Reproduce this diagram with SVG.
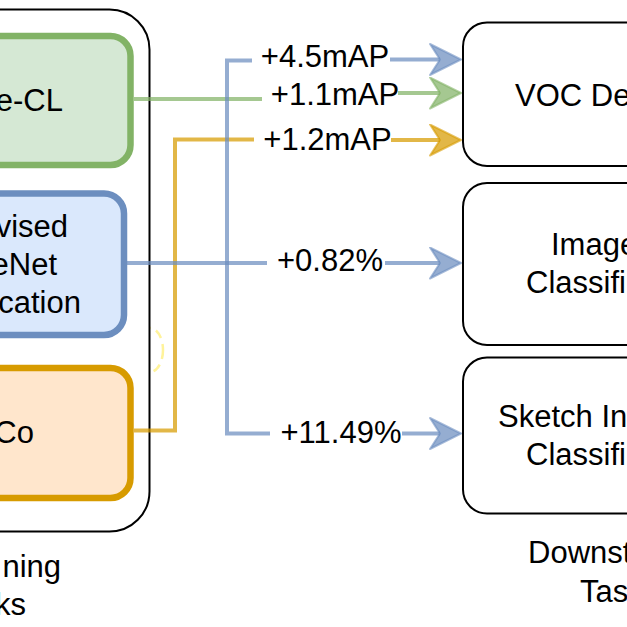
<svg xmlns="http://www.w3.org/2000/svg" width="627" height="627" viewBox="0 0 627 627">
<style>
text{font-family:"Liberation Sans",Arial,Helvetica,sans-serif;font-size:31px;fill:#000}
.node{stroke-width:6.5}
.task{fill:#fff;stroke:#000;stroke-width:2}
.edge{fill:none;stroke-width:4;stroke-opacity:0.72}
.b{stroke:#6c8ebf}
.g{stroke:#82b366}
.o{stroke:#d79b00}
</style>
<defs>
<marker id="ab" markerUnits="userSpaceOnUse" viewBox="-1 -1 33 33" refX="10" refY="15.5" markerWidth="33" markerHeight="33" orient="auto">
<path d="M0,0 L31,15.5 L0,31 L10,15.5 Z" fill="#6c8ebf" fill-opacity="0.72" stroke="#6c8ebf" stroke-opacity="0.6" stroke-width="2" stroke-linejoin="round"/>
</marker>
<marker id="ag" markerUnits="userSpaceOnUse" viewBox="-1 -1 33 33" refX="10" refY="15.5" markerWidth="33" markerHeight="33" orient="auto">
<path d="M0,0 L31,15.5 L0,31 L10,15.5 Z" fill="#82b366" fill-opacity="0.72" stroke="#82b366" stroke-opacity="0.6" stroke-width="2" stroke-linejoin="round"/>
</marker>
<marker id="ao" markerUnits="userSpaceOnUse" viewBox="-1 -1 33 33" refX="10" refY="15.5" markerWidth="33" markerHeight="33" orient="auto">
<path d="M0,0 L31,15.5 L0,31 L10,15.5 Z" fill="#d79b00" fill-opacity="0.72" stroke="#d79b00" stroke-opacity="0.6" stroke-width="2" stroke-linejoin="round"/>
</marker>
</defs>
<rect width="627" height="627" fill="#fff"/>
<ellipse cx="150" cy="350" rx="13" ry="22" fill="none" stroke="#fff39a" stroke-width="2.5" stroke-dasharray="9 6"/>
<g id="pretraining">
<rect x="-300" y="9.5" width="449.5" height="522" rx="40" fill="#fff" stroke="#000" stroke-width="2"/>
<text x="61" y="577" text-anchor="end">ning</text>
<text x="26" y="615" text-anchor="end">ks</text>
</g>
<g id="node-cl">
<rect class="node" x="-200" y="36" width="330.5" height="129" rx="20" fill="#d5e8d4" stroke="#82b366"/>
<text x="63" y="111" text-anchor="end">e-CL</text>
</g>
<g id="node-supervised">
<rect class="node" x="-200" y="193.5" width="324" height="141.5" rx="20" fill="#dae8fc" stroke="#6c8ebf"/>
<text x="68" y="237" text-anchor="end">vised</text>
<text x="57" y="275" text-anchor="end">eNet</text>
<text x="81" y="313" text-anchor="end">cation</text>
</g>
<g id="node-moco">
<rect class="node" x="-200" y="368" width="330.5" height="130" rx="20" fill="#ffe6cc" stroke="#d79b00"/>
<text x="34" y="443" text-anchor="end">Co</text>
</g>
<g id="task-voc">
<rect class="task" x="463" y="22.5" width="300" height="143.5" rx="24"/>
<text x="515" y="106">VOC De</text>
</g>
<g id="task-image">
<rect class="task" x="463" y="183" width="300" height="162" rx="24"/>
<text x="551" y="255">Image</text>
<text x="526" y="293">Classifi</text>
</g>
<g id="task-sketch">
<rect class="task" x="463" y="357.5" width="300" height="156" rx="24"/>
<text x="498" y="427">Sketch In</text>
<text x="526" y="465">Classifi</text>
</g>
<g id="downstream">
<text x="528" y="563">Downst</text>
<text x="580" y="602">Tas</text>
</g>
<g id="connectors">
<path class="edge g" d="M134,99 H262 M398,93 H440" marker-end="url(#ag)"/>
<path class="edge o" d="M134,430.5 H175 V139.5 H254 M391,140 H440" marker-end="url(#ao)"/>
<path class="edge b" d="M127,263 H267 M385,263 H440" marker-end="url(#ab)"/>
<path class="edge b" d="M252,60.5 H227 V433.5 H270 M402,433.5 H440" marker-end="url(#ab)"/>
<path class="edge b" d="M390,59.5 H440" marker-end="url(#ab)"/>
<text x="325" y="67" text-anchor="middle">+4.5mAP</text>
<text x="335" y="105" text-anchor="middle">+1.1mAP</text>
<text x="327.5" y="150" text-anchor="middle">+1.2mAP</text>
<text x="330" y="271" text-anchor="middle">+0.82%</text>
<text x="341" y="443" text-anchor="middle">+11.49%</text>
</g>
</svg>
